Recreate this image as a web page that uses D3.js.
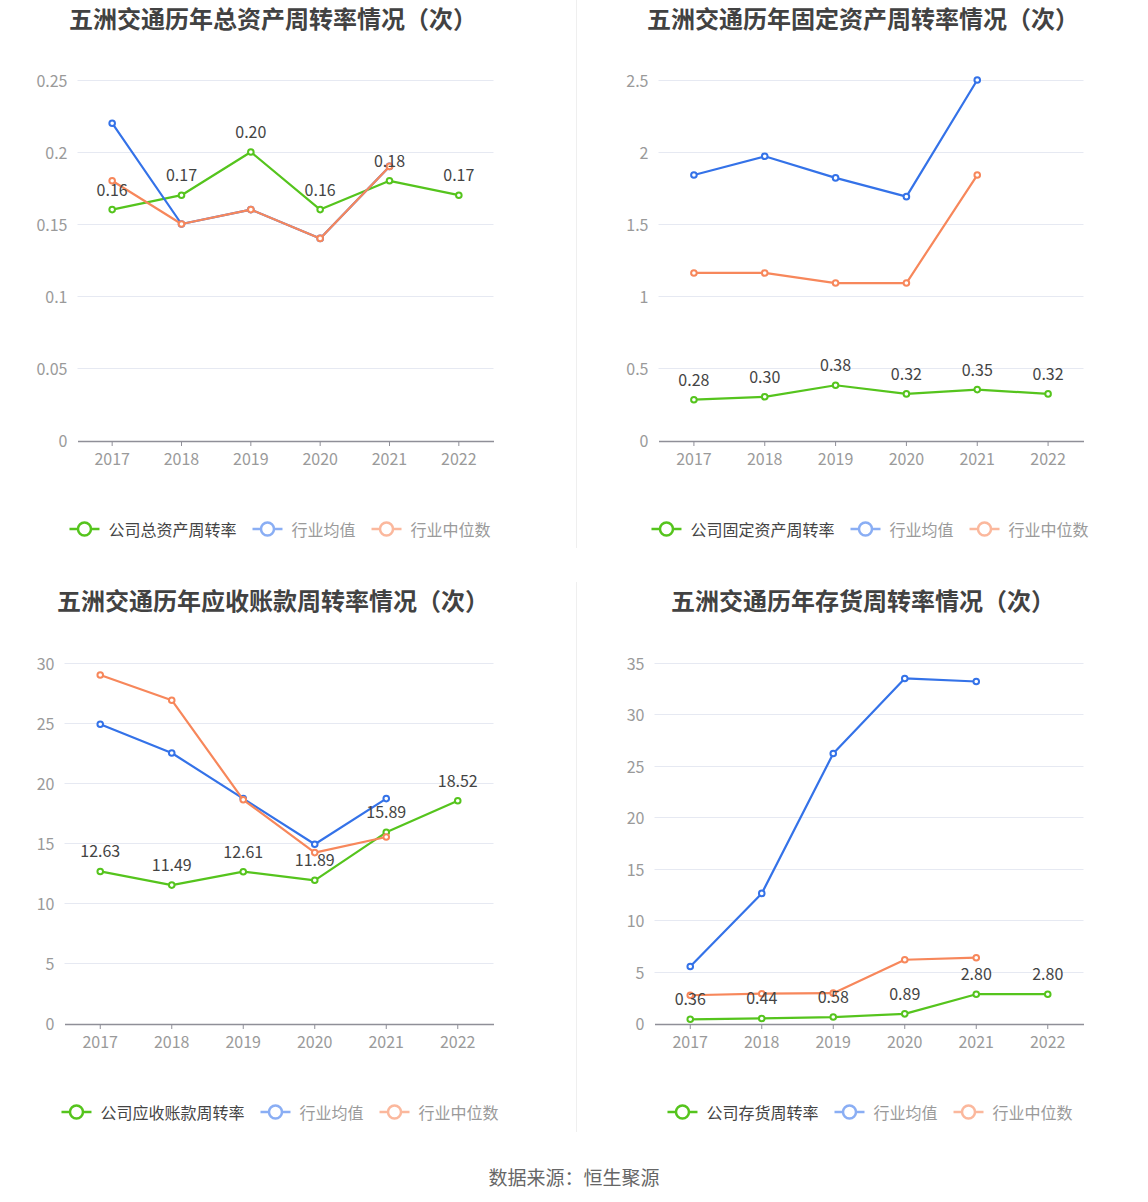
<!DOCTYPE html>
<html><head><meta charset="utf-8">
<script src="https://cdn.jsdelivr.net/npm/d3@7"></script>
<style>
html,body{margin:0;padding:0;background:#fff;}
svg{display:block;font-family:"Noto Sans CJK SC","Noto Sans",sans-serif;}
</style></head>
<body><svg id="c" width="1148" height="1202"></svg>
<script>
const years = ["2017","2018","2019","2020","2021","2022"];

// Chart 1: 总资产周转率
const totalAssetCompany = [0.16, 0.17, 0.20, 0.16, 0.18, 0.17];
const totalAssetMean    = [0.22, 0.15, 0.16, 0.14, 0.19];
const totalAssetMedian  = [0.18, 0.15, 0.16, 0.14, 0.19];
const totalAssetTicks   = [0, 0.05, 0.1, 0.15, 0.2, 0.25];

// Chart 2: 固定资产周转率
const fixedAssetCompany = [0.28, 0.30, 0.38, 0.32, 0.35, 0.32];
const fixedAssetMean    = [1.84, 1.97, 1.82, 1.69, 2.50];
const fixedAssetMedian  = [1.16, 1.16, 1.09, 1.09, 1.84];
const fixedAssetTicks   = [0, 0.5, 1, 1.5, 2, 2.5];

// Chart 3: 应收账款周转率
const receivCompany = [12.63, 11.49, 12.61, 11.89, 15.89, 18.52];
const receivMean    = [24.9, 22.5, 18.7, 14.9, 18.7];
const receivMedian  = [29.0, 26.9, 18.6, 14.2, 15.5];
const receivTicks   = [0, 5, 10, 15, 20, 25, 30];

// Chart 4: 存货周转率
const invCompany = [0.36, 0.44, 0.58, 0.89, 2.80, 2.80];
const invMean    = [5.5, 12.6, 26.2, 33.5, 33.2];
const invMedian  = [2.7, 2.85, 2.9, 6.15, 6.35];
const invTicks   = [0, 5, 10, 15, 20, 25, 30, 35];

const titles = ["五洲交通历年总资产周转率情况（次）","五洲交通历年固定资产周转率情况（次）",
                "五洲交通历年应收账款周转率情况（次）","五洲交通历年存货周转率情况（次）"];
const companyNames = ["公司总资产周转率","公司固定资产周转率","公司应收账款周转率","公司存货周转率"];
const meanName = "行业均值", medianName = "行业中位数";
const sourceText = "数据来源：恒生聚源";

const C_GREEN = "#55c41d", C_BLUE = "#3472e8", C_ORANGE = "#f7875b";
const C_BLUE_L = "#8aaef4", C_ORANGE_L = "#fbb89d";

const svg = d3.select("#c");

// separators
svg.append("line").attr("x1",576.5).attr("x2",576.5).attr("y1",0).attr("y2",548).attr("stroke","#efefef");
svg.append("line").attr("x1",576.5).attr("x2",576.5).attr("y1",582).attr("y2",1132).attr("stroke","#efefef");

const charts = [
  {company: totalAssetCompany, mean: totalAssetMean, median: totalAssetMedian, ticks: totalAssetTicks,
   x0: 77.5, x1: 493.5, yTop: 80, yBot: 440, titleX: 273, titleY: 17, legX: 280, legY: 529},
  {company: fixedAssetCompany, mean: fixedAssetMean, median: fixedAssetMedian, ticks: fixedAssetTicks,
   x0: 658.5, x1: 1083.5, yTop: 80, yBot: 440, titleX: 863, titleY: 17, legX: 870, legY: 529},
  {company: receivCompany, mean: receivMean, median: receivMedian, ticks: receivTicks,
   x0: 64.5, x1: 493.5, yTop: 663, yBot: 1023, titleX: 273, titleY: 599, legX: 280, legY: 1112},
  {company: invCompany, mean: invMean, median: invMedian, ticks: invTicks,
   x0: 654.5, x1: 1083.5, yTop: 663, yBot: 1023, titleX: 863, titleY: 599, legX: 870, legY: 1112}
];

charts.forEach((c, i) => {
  const g = svg.append("g");
  const x = d3.scaleBand().domain(years).range([c.x0, c.x1]);
  const y = d3.scaleLinear().domain([c.ticks[0], c.ticks[c.ticks.length-1]]).range([c.yBot, c.yTop]);
  const cx = d => x(d) + x.bandwidth()/2;

  // title
  g.append("text").attr("x", c.titleX).attr("y", c.titleY).attr("text-anchor","middle")
    .attr("dominant-baseline","central").attr("font-size",24).attr("font-weight","bold")
    .attr("fill","#424242").text(titles[i]);

  // grid
  g.selectAll(".grid").data(c.ticks.slice(1)).enter().append("line")
    .attr("x1", c.x0).attr("x2", c.x1).attr("y1", d=>Math.round(y(d))+0.5).attr("y2", d=>Math.round(y(d))+0.5)
    .attr("stroke","#e6e9f2").attr("stroke-width",1);

  // y labels
  g.selectAll(".yl").data(c.ticks).enter().append("text")
    .attr("x", c.x0 - 10).attr("y", d=>y(d)).attr("text-anchor","end").attr("dominant-baseline","central")
    .attr("font-size",16).attr("fill","#9a9a9a").text(d=>String(+d.toFixed(4)));

  // x axis
  const ax = g.append("g").attr("transform", `translate(0,${c.yBot+1})`)
    .call(d3.axisBottom(x).tickSize(5).tickSizeOuter(0).tickPadding(8));
  ax.select(".domain").attr("stroke","#8f8f98").attr("stroke-width",1.5);
  ax.selectAll(".tick line").attr("stroke","#8f8f98");
  ax.selectAll(".tick text").attr("font-size",16).attr("fill","#9a9a9a")
    .attr("font-family",'"Noto Sans CJK SC","Noto Sans",sans-serif');

  const line = d3.line().x((d,k)=>cx(years[k])).y(d=>y(d));
  const series = [
    {data: c.company, color: C_GREEN},
    {data: c.mean, color: C_BLUE},
    {data: c.median, color: C_ORANGE}
  ];
  series.forEach(s => {
    g.append("path").datum(s.data).attr("d", line).attr("fill","none")
      .attr("stroke", s.color).attr("stroke-width",2.2).attr("stroke-linejoin","round");
    g.selectAll(null).data(s.data).enter().append("circle")
      .attr("cx",(d,k)=>cx(years[k])).attr("cy",d=>y(d)).attr("r",2.8)
      .attr("fill","#fff").attr("stroke",s.color).attr("stroke-width",2);
  });
  // labels for company
  g.selectAll(null).data(c.company).enter().append("text")
    .attr("x",(d,k)=>cx(years[k])).attr("y",d=>y(d)-21)
    .attr("text-anchor","middle").attr("dominant-baseline","central")
    .attr("font-size",16).attr("fill","#444").text(d=>d.toFixed(2));

  // legend
  const items = [
    {name: companyNames[i], color: C_GREEN, tc: "#444"},
    {name: meanName, color: C_BLUE_L, tc: "#9a9a9a"},
    {name: medianName, color: C_ORANGE_L, tc: "#9a9a9a"}
  ];
  const lg = g.append("g");
  let xpos = 0;
  items.forEach((it, k) => {
    const ig = lg.append("g").attr("transform",`translate(${xpos},0)`);
    ig.append("line").attr("x1",0).attr("x2",30).attr("y1",0).attr("y2",0)
      .attr("stroke",it.color).attr("stroke-width",2.5);
    ig.append("circle").attr("cx",15).attr("cy",0).attr("r",6.5)
      .attr("fill","#fff").attr("stroke",it.color).attr("stroke-width",2.5);
    const t = ig.append("text").attr("x",39).attr("y",0).attr("dominant-baseline","central")
      .attr("font-size",16).attr("fill",it.tc).text(it.name);
    const w = t.node().getComputedTextLength();
    xpos += 39 + w + 16;
  });
  const total = xpos - 16;
  lg.attr("transform",`translate(${c.legX - total/2},${c.legY})`);
});

svg.append("text").attr("x",574).attr("y",1176).attr("text-anchor","middle").attr("dominant-baseline","central")
  .attr("font-size",19).attr("fill","#666").text(sourceText);
</script></body></html>
